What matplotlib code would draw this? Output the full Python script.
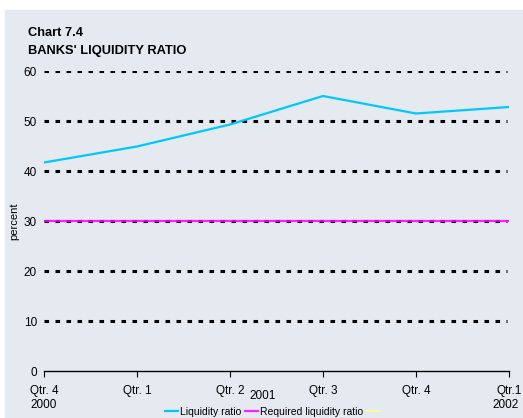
import numpy as np
import matplotlib
matplotlib.use("Agg")
import matplotlib.pyplot as plt

# quarters from Qtr. 4 2000 to Qtr. 1 2002
quarters = ["Qtr. 4", "Qtr. 1", "Qtr. 2", "Qtr. 3", "Qtr. 4", "Qtr.1"]
years = ["2000", "2001", "2002"]
liquidity = [41.7, 44.9, 49.3, 55.0, 51.5, 52.8]
required = [30, 30, 30, 30, 30, 30]
yticks = [0, 10, 20, 30, 40, 50, 60]

bg = "#e5e9f0"
W, H = 523, 418

plt.rcParams["font.family"] = ["Liberation Sans", "DejaVu Sans"]

fig = plt.figure(figsize=(W / 100, H / 100), dpi=100)
fig.patch.set_facecolor("white")
# grey panel behind everything
fig.patches.append(plt.Rectangle((5 / W, 0), 1 - 5 / W - 1 / W, 1 - 10 / H,
                                 transform=fig.transFigure, color=bg, zorder=-10))

ax = fig.add_axes([44 / W, 47 / H, 465 / W, 300 / H])
ax.set_facecolor("none")
x = np.arange(len(quarters))

# dotted gridlines
for yv in yticks[1:]:
    ax.axhline(yv, xmin=0, xmax=0.995, color="black", lw=2.2,
               linestyle=(0, (1.5, 2.1)), zorder=1)

ax.plot(x, required, color="#ff00ff", lw=1.6, alpha=0.85, zorder=2,
        label="Required liquidity ratio")
ax.plot(x, liquidity, color="#00c8ff", lw=1.6, zorder=3, label="Liquidity ratio")
ax.plot([], [], color="#ffff80", lw=1.2, label=" ")

ax.set_xlim(0, len(quarters) - 1)
ax.set_ylim(0, 60)
ax.set_yticks(yticks)
ax.set_xticks(x)
ax.set_xticklabels(quarters)
ax.tick_params(axis="y", length=0, pad=5, labelsize=8.5)
ax.tick_params(axis="x", length=4, direction="out", pad=6, labelsize=8.5)
for s in ["left", "right", "top"]:
    ax.spines[s].set_visible(False)
ax.spines["bottom"].set_linewidth(1)

ax.set_ylabel("percent", fontsize=8, labelpad=3)

# year labels under the quarter labels
xt = ax.get_xaxis_transform()
ax.text(0, -34 / 300, years[0], transform=xt, ha="center", va="center", fontsize=8.5)
ax.text(2.35, -25 / 300, years[1], transform=xt, ha="center", va="center", fontsize=8.5)
ax.text(4.96, -34 / 300, years[2], transform=xt, ha="center", va="center", fontsize=8.5)

fig.text(28 / W, 1 - 36 / H, "Chart 7.4", fontsize=9.3, fontweight="bold")
fig.text(28 / W, 1 - 54 / H, "BANKS' LIQUIDITY RATIO", fontsize=9.3, fontweight="bold")

h, l = ax.get_legend_handles_labels()
order = [1, 0, 2]
fig.legend([h[i] for i in order], [l[i] for i in order], loc="center",
           bbox_to_anchor=(275 / W, 1 - 412 / H), ncol=3, frameon=False, fontsize=7.5,
           handlelength=1.3, handletextpad=0.2, columnspacing=0.3,
           borderpad=0, borderaxespad=0)

fig.savefig("out.png", dpi=100, facecolor="white")
